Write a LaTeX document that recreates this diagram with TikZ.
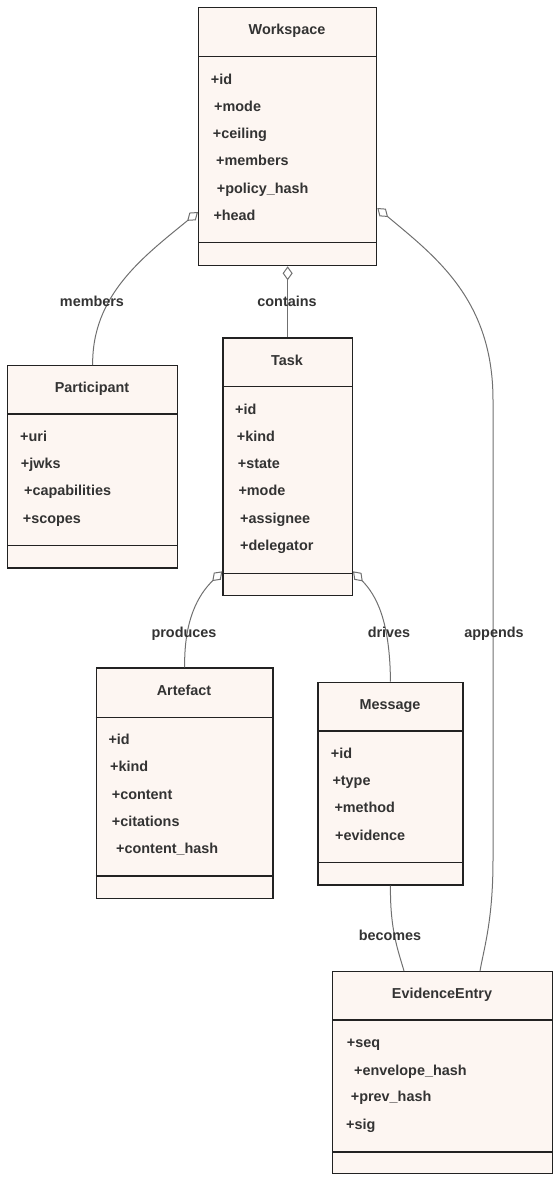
\documentclass[tikz,border=0pt]{standalone}
\usepackage{fontspec}
\setmainfont{Liberation Sans}
\usetikzlibrary{arrows.meta,calc}
\definecolor{boxfill}{HTML}{FDF6F2}
\definecolor{boxline}{HTML}{222222}
\definecolor{txt}{HTML}{333333}
\definecolor{edgec}{HTML}{707070}
\tikzset{
  classbox/.style={draw=boxline, fill=boxfill, line width=1.3pt, inner sep=0pt, anchor=north west},
  divider/.style={draw=boxline, line width=1.3pt},
  txtfont/.style={text=txt, font=\fontsize{14.4}{17}\selectfont\bfseries},
  classtitle/.style={txtfont, anchor=base, inner sep=0pt},
  attr/.style={txtfont, anchor=base west, inner sep=0pt},
  elabel/.style={txtfont, anchor=base, inner sep=0pt},
  conn/.style={draw=edgec, line width=1pt},
  agg/.style={conn, arrows={Diamond[open, length=14pt, width=10pt]-}},
}
\begin{document}
\begin{tikzpicture}[x=1pt,y=-1pt]
\useasboundingbox (0,0) rectangle (559,1181);

% ---------------- Workspace
\node[classbox, minimum width=178pt, minimum height=258pt] (ws) at (198,7) {};
\draw[divider] ($(ws.north west)+(0,49.7)$) -- ($(ws.north east)+(0,49.7)$);
\draw[divider] ($(ws.north west)+(0,235.3)$) -- ($(ws.north east)+(0,235.3)$);
\node[classtitle] (wsT) at (287,34.5) {Workspace};
\node[attr] (wsA1) at (210.7,84) {+id};
\node[attr] (wsA2) at (214,111.3) {+mode};
\node[attr] (wsA3) at (212.7,138.6) {+ceiling};
\node[attr] (wsA4) at (216,165.9) {+members};
\node[attr] (wsA5) at (216.7,193.2) {+policy\_hash};
\node[attr] (wsA6) at (213.3,220.5) {+head};

% ---------------- Participant
\node[classbox, minimum width=170pt, minimum height=202.3pt] (pt) at (7,365) {};
\draw[divider] ($(pt.north west)+(0,49)$) -- ($(pt.north east)+(0,49)$);
\draw[divider] ($(pt.north west)+(0,180.7)$) -- ($(pt.north east)+(0,180.7)$);
\node[classtitle] (ptT) at (92,392.5) {Participant};
\node[attr] (ptA1) at (20,441.3) {+uri};
\node[attr] (ptA2) at (20.7,468.6) {+jwks};
\node[attr] (ptA3) at (24,495.9) {+capabilities};
\node[attr] (ptA4) at (22.7,523.2) {+scopes};

% ---------------- Task
\node[classbox, minimum width=129.4pt, minimum height=257.7pt] (task) at (222.3,337.3) {};
\draw[divider] ($(task.north west)+(0,49.4)$) -- ($(task.north east)+(0,49.4)$);
\draw[divider] ($(task.north west)+(0,236)$) -- ($(task.north east)+(0,236)$);
\node[classtitle] (taskT) at (287,365) {Task};
\node[attr] (taskA1) at (235,414) {+id};
\node[attr] (taskA2) at (236.7,441.3) {+kind};
\node[attr] (taskA3) at (237.7,468.6) {+state};
\node[attr] (taskA4) at (238.3,495.9) {+mode};
\node[attr] (taskA5) at (240,523.2) {+assignee};
\node[attr] (taskA6) at (240,550.5) {+delegator};

% ---------------- Artefact
\node[classbox, minimum width=176.6pt, minimum height=230.7pt] (art) at (95.7,667.3) {};
\draw[divider] ($(art.north west)+(0,50)$) -- ($(art.north east)+(0,50)$);
\draw[divider] ($(art.north west)+(0,208.7)$) -- ($(art.north east)+(0,208.7)$);
\node[classtitle] (artT) at (184,695) {Artefact};
\node[attr] (artA1) at (108.3,744.6) {+id};
\node[attr] (artA2) at (110,771.9) {+kind};
\node[attr] (artA3) at (111.7,799.2) {+content};
\node[attr] (artA4) at (111.7,826.5) {+citations};
\node[attr] (artA5) at (116,853.8) {+content\_hash};

% ---------------- Message
\node[classbox, minimum width=145pt, minimum height=202.6pt] (msg) at (317.3,681.7) {};
\draw[divider] ($(msg.north west)+(0,49.3)$) -- ($(msg.north east)+(0,49.3)$);
\draw[divider] ($(msg.north west)+(0,181)$) -- ($(msg.north east)+(0,181)$);
\node[classtitle] (msgT) at (390,709) {Message};
\node[attr] (msgA1) at (330.7,758.3) {+id};
\node[attr] (msgA2) at (332.3,785.6) {+type};
\node[attr] (msgA3) at (334.3,812.9) {+method};
\node[attr] (msgA4) at (335,840.2) {+evidence};

% ---------------- EvidenceEntry
\node[classbox, minimum width=220pt, minimum height=202pt] (ev) at (332,971) {};
\draw[divider] ($(ev.north west)+(0,49)$) -- ($(ev.north east)+(0,49)$);
\draw[divider] ($(ev.north west)+(0,181)$) -- ($(ev.north east)+(0,181)$);
\node[classtitle] (evT) at (442,998.3) {EvidenceEntry};
\node[attr] (evA1) at (346.7,1047.3) {+seq};
\node[attr] (evA2) at (354,1075) {+envelope\_hash};
\node[attr] (evA3) at (350.7,1101.7) {+prev\_hash};
\node[attr] (evA4) at (346,1129.3) {+sig};

% ---------------- Connectors
\draw[agg] ($(ws.north west)+(0,205)$) .. controls (143,257) and (92,295) .. (pt.north);
\draw[agg] (ws.south) -- (task.north);
\draw[agg] ($(ws.north east)+(0,201)$) .. controls (436,257) and (493,300) .. (493,400)
   -- (493,860) .. controls (493,920) and (484,948) .. ($(ev.north west)+(148,0)$);
\draw[agg] ($(task.north west)+(0,234)$) .. controls (198,595) and (184,620) .. (art.north);
\draw[agg] ($(task.north east)+(0,234)$) .. controls (376,595) and (390,620) .. (msg.north);
\draw[conn] (msg.south) .. controls (390,930) and (398,950) .. ($(ev.north west)+(72,0)$);

% ---------------- Labels
\node[elabel] (lMembers) at (92,306) {members};
\node[elabel] (lContains) at (287,306) {contains};
\node[elabel] (lProduces) at (184,637) {produces};
\node[elabel] (lDrives) at (389,637) {drives};
\node[elabel] (lAppends) at (494,637) {appends};
\node[elabel] (lBecomes) at (390,940) {becomes};
\end{tikzpicture}
\end{document}
